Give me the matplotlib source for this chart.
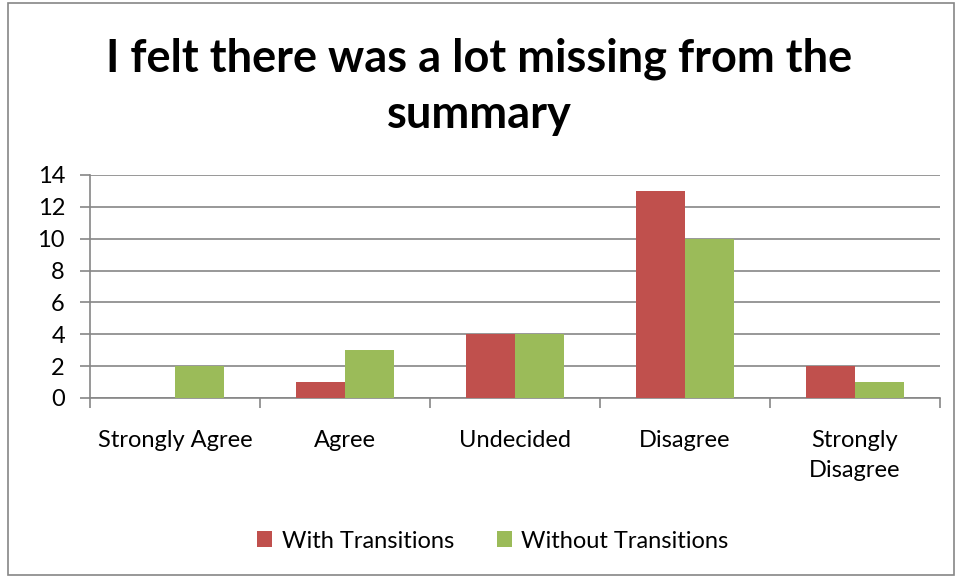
import matplotlib
matplotlib.use('Agg')
import matplotlib.pyplot as plt
import numpy as np
from matplotlib.patches import Rectangle

categories = ['Strongly Agree', 'Agree', 'Undecided', 'Disagree', 'Strongly\nDisagree']
with_transitions = [0, 1, 4, 13, 2]
without_transitions = [2, 3, 4, 10, 1]
series_names = ['With Transitions', 'Without Transitions']
colours = ['#C0504D', '#9BBB59']

plt.rcParams['font.family'] = ['Lato', 'DejaVu Sans']

fig = plt.figure(figsize=(9.59, 5.77), dpi=100)
# plot area in pixels: x 90..940, y 175..398
ax = fig.add_axes([90/959, 1-398/577, 850/959, 223/577])

x = np.arange(len(categories))
bw = 1/3.5
ax.bar(x - bw/2, with_transitions, bw, color=colours[0], label=series_names[0], zorder=3)
ax.bar(x + bw/2, without_transitions, bw, color=colours[1], label=series_names[1], zorder=3)

ax.set_xlim(-0.5, len(categories) - 0.5)
ax.set_ylim(0, 14)
ax.set_yticks(range(0, 15, 2))
ax.yaxis.grid(True, color='#868686', linewidth=1.2, zorder=0)
ax.set_axisbelow(True)
for s in ['top', 'right']:
    ax.spines[s].set_visible(False)
ax.spines['left'].set_color('#868686')
ax.spines['bottom'].set_color('#868686')
ax.spines['left'].set_linewidth(1.2)
ax.spines['bottom'].set_linewidth(1.2)

ax.set_xticks(np.arange(-0.5, len(categories)), minor=False)
ax.set_xticklabels([])
ax.set_xticks(x, minor=True)
ax.set_xticklabels(categories, minor=True, fontsize=17)
ax.tick_params(axis='x', which='major', length=7, color='#868686', width=1.2)
ax.tick_params(axis='x', which='minor', length=0, pad=23)
ax.tick_params(axis='y', length=7, color='#868686', width=1.2, labelsize=17, pad=11)
for lab in ax.get_xticklabels(minor=True):
    lab.set_verticalalignment('top')
    lab.set_linespacing(1.55)

fig.text(0.5, 1-87/577, 'I felt there was a lot missing from the\nsummary', ha='center', va='center',
         fontsize=32.5, fontweight='bold', linespacing=1.42)

leg = fig.legend(loc='center', bbox_to_anchor=(0.514, 1-541/577), ncol=2, frameon=False,
                 fontsize=17, handlelength=0.65, handleheight=0.65, columnspacing=1.8, handletextpad=0.4)

fig.patches.append(Rectangle((8/959, 1-575/577), 946/959, 572/577, transform=fig.transFigure,
                             fill=False, edgecolor='#868686', linewidth=1.2))

plt.savefig('out.png', dpi=100)
